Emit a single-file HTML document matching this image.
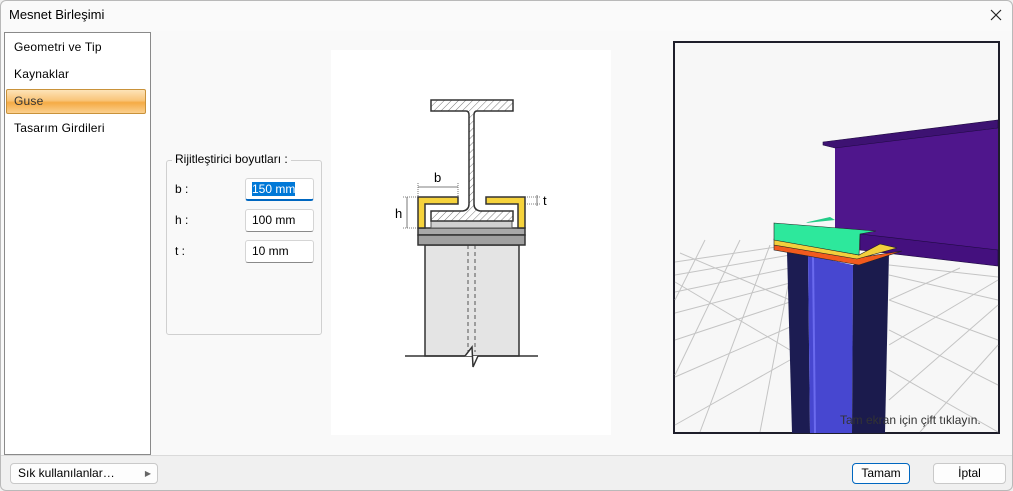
<!DOCTYPE html>
<html><head><meta charset="utf-8"><style>
*{margin:0;padding:0;box-sizing:border-box}
body{width:1013px;height:491px;background:#f0f0f0;font-family:"Segoe UI","Liberation Sans",sans-serif;font-size:12px;color:#000;position:relative;overflow:hidden}
.abs{position:absolute}
.win{left:0;top:0;width:1013px;height:491px;border:1px solid #b9b9b9;border-radius:6px;background:#f0f0f0}
.title{left:1px;top:1px;width:1011px;height:30px;background:#fafafa;border-radius:6px 6px 0 0}
.content{left:1px;top:31px;width:1011px;height:425px;background:#f9f9f9;border-bottom:1px solid #dadada}
.list{left:4px;top:32px;width:147px;height:423px;background:#fff;border:1px solid #8a8a8a}
.item{left:14px;font-size:12px;letter-spacing:0.2px}
.sel{left:6px;top:89px;width:140px;height:25px;border:1px solid #c9923a;border-radius:2px;background:linear-gradient(#fde3b8,#f9c57a 45%,#f5ab45 55%,#fbd08e)}
.inp{left:245px;width:69px;height:23px;background:#fff;border:1px solid #d5d5d5;border-bottom-color:#8a8a8a;border-radius:3px;padding:3px 6px;font-size:12px}
.btn{height:21px;background:#fdfdfd;border:1px solid #c9c9c9;border-radius:4px;font-size:12px;text-align:center;line-height:19px}
</style></head><body>
<div class="abs win"></div>
<div class="abs title"></div>
<div class="abs" style="left:9px;top:7px;font-size:13px">Mesnet Birleşimi</div>
<svg class="abs" style="left:989px;top:8px" width="14" height="14"><path d="M2 2L12 12M12 2L2 12" stroke="#222" stroke-width="1.2"/></svg>
<div class="abs content"></div>
<div class="abs list"></div>
<div class="abs sel"></div>
<div class="abs item" style="top:40px">Geometri ve Tip</div>
<div class="abs item" style="top:67px">Kaynaklar</div>
<div class="abs item" style="top:94px;color:#333">Guse</div>
<div class="abs item" style="top:121px">Tasarım Girdileri</div>

<div class="abs" style="left:166px;top:160px;width:156px;height:175px;border:1px solid #d0d0d0;border-radius:3px"></div>
<div class="abs" style="left:172px;top:152px;background:#f9f9f9;padding:0 3px;font-size:12px">Rijitleştirici boyutları :</div>
<div class="abs" style="left:175px;top:182px">b :</div>
<div class="abs" style="left:175px;top:213px">h :</div>
<div class="abs" style="left:175px;top:244px">t :</div>
<div class="abs inp" style="top:178px;border-bottom:2px solid #0067c0"><span style="background:#0078d7;color:#fff">150 mm</span></div>
<div class="abs inp" style="top:209px">100 mm</div>
<div class="abs inp" style="top:240px">10 mm</div>

<div class="abs" style="left:331px;top:50px;width:280px;height:385px;background:#fff"></div>
<svg class="abs" style="left:0;top:0" width="1013" height="491">
<defs><pattern id="h" width="5" height="5" patternUnits="userSpaceOnUse" patternTransform="rotate(45)"><rect width="5" height="5" fill="#fff"/><line x1="0" y1="0" x2="0" y2="5" stroke="#555" stroke-width="0.8"/></pattern></defs>
<!-- column -->
<rect x="425" y="245" width="94" height="111" fill="#e4e4e4" stroke="#333" stroke-width="1.5"/>
<line x1="468" y1="245" x2="468" y2="352" stroke="#555" stroke-dasharray="4,3"/>
<line x1="475" y1="245" x2="475" y2="352" stroke="#555" stroke-dasharray="4,3"/>
<line x1="405" y1="356" x2="465" y2="356" stroke="#333" stroke-width="1.5"/>
<line x1="478" y1="356" x2="538" y2="356" stroke="#333" stroke-width="1.5"/>
<polyline points="465,356 472,347 473,367 478,356" fill="#fff" stroke="#333" stroke-width="1.5"/>
<!-- plates -->
<rect x="418" y="228" width="107" height="7" fill="#a8a8a8" stroke="#333" stroke-width="1.5"/>
<rect x="418" y="235" width="107" height="10" fill="#a0a0a0" stroke="#333" stroke-width="1.5"/>
<rect x="431" y="221" width="81" height="7" fill="#d0d0d0" stroke="#555"/>
<!-- I beam -->
<path d="M431 100H513V111H477Q474 111 474 115V204Q474 210 480 211H513V221H431V211H463Q469 210 469 204V115Q469 111 466 111H431Z" fill="url(#h)" stroke="#333" stroke-width="1.5"/>
<!-- stiffeners -->
<path d="M418 197H458V204H425V228H418Z" fill="#f6d33c" stroke="#333" stroke-width="1.5"/>
<path d="M525 197H486V204H518V228H525Z" fill="#f6d33c" stroke="#333" stroke-width="1.5"/>
<!-- dims -->
<g stroke="#555" stroke-width="0.8">
<line x1="418" y1="187" x2="458" y2="187"/><line x1="418" y1="183" x2="418" y2="197" stroke-dasharray="1,1"/><line x1="458" y1="183" x2="458" y2="197" stroke-dasharray="1,1"/>
<line x1="407" y1="197" x2="407" y2="228"/><line x1="403" y1="197" x2="418" y2="197" stroke-dasharray="1,1"/><line x1="403" y1="228" x2="418" y2="228" stroke-dasharray="1,1"/>
<line x1="537" y1="195" x2="537" y2="206"/><line x1="525" y1="197" x2="540" y2="197" stroke-dasharray="1,1"/><line x1="525" y1="204" x2="540" y2="204" stroke-dasharray="1,1"/>
</g>
<text x="434" y="182" font-family="Liberation Sans" font-size="13">b</text>
<text x="395" y="218" font-family="Liberation Sans" font-size="13">h</text>
<text x="543" y="205" font-family="Liberation Sans" font-size="13">t</text>

<!-- 3D view -->
<rect x="674" y="42" width="325" height="391" fill="#f7f7f7" stroke="#1e1e2a" stroke-width="2"/>
<g stroke="#c4c4c4" stroke-width="1">
<line x1="675" y1="262" x2="790" y2="245"/><line x1="675" y1="275" x2="790" y2="255"/>
<line x1="675" y1="292" x2="790" y2="268"/><line x1="675" y1="313" x2="790" y2="283"/>
<line x1="675" y1="340" x2="790" y2="302"/><line x1="675" y1="377" x2="790" y2="327"/>
<line x1="675" y1="425" x2="790" y2="360"/>
<line x1="705" y1="240" x2="675" y2="300"/><line x1="740" y1="240" x2="675" y2="375"/>
<line x1="770" y1="245" x2="700" y2="432"/><line x1="790" y1="275" x2="760" y2="432"/>
<line x1="680" y1="253" x2="790" y2="300"/><line x1="675" y1="282" x2="790" y2="350"/>
<line x1="889" y1="275" x2="998" y2="300"/><line x1="889" y1="300" x2="998" y2="340"/>
<line x1="889" y1="330" x2="998" y2="385"/><line x1="889" y1="370" x2="998" y2="432"/>
<line x1="889" y1="265" x2="998" y2="277"/>
<line x1="998" y1="280" x2="889" y2="345"/><line x1="998" y1="305" x2="889" y2="400"/>
<line x1="998" y1="345" x2="920" y2="432"/><line x1="960" y1="268" x2="889" y2="300"/>
</g>
<!-- beam -->
<polygon points="835,146 998,128 998,262 935,255 860,240 835,238" fill="#4f168c"/>
<polygon points="823,142 998,120 998,128 835,148 823,145" fill="#3d1272" stroke="#1e0a40" stroke-width="0.6"/>
<polygon points="860,234 998,250 998,266 860,250" fill="#44107e" stroke="#1e0a40" stroke-width="0.6"/>
<!-- column -->
<polygon points="787,252 808,255 810,433 792,433" fill="#1c1c52"/>
<polygon points="808,255 853,265 852,433 810,433" fill="#4747d0"/>
<line x1="813" y1="256" x2="815" y2="433" stroke="#6a6aee" stroke-width="2"/>
<polygon points="853,265 889,253 885,433 852,433" fill="#1b1b4d"/>
<!-- plates -->
<polygon points="774,245 857,258 902,251 859,265 774,250" fill="#f25a1e" stroke="#222" stroke-width="0.6"/>
<polygon points="774,239 859,255 880,244 897,248 857,259 774,245" fill="#f3cf3c" stroke="#222" stroke-width="0.6"/>
<polygon points="808,222 830,217 835,220 806,223" fill="#22cc88"/>
<polygon points="774,223 876,231 860,234 859,255 774,240" fill="#2de89c" stroke="#222" stroke-width="0.6"/>
<text x="840" y="424" font-family="Liberation Sans" font-size="12" fill="#333">Tam ekran için çift tıklayın.</text>
</svg>

<div class="abs btn" style="left:10px;top:463px;width:148px;text-align:left;padding-left:7px">Sık kullanılanlar…<span style="position:absolute;right:6px;color:#666;font-size:8px">▶</span></div>
<div class="abs btn" style="left:852px;top:463px;width:58px;border:1px solid #0067c0">Tamam</div>
<div class="abs btn" style="left:933px;top:463px;width:73px">İptal</div>
</body></html>
